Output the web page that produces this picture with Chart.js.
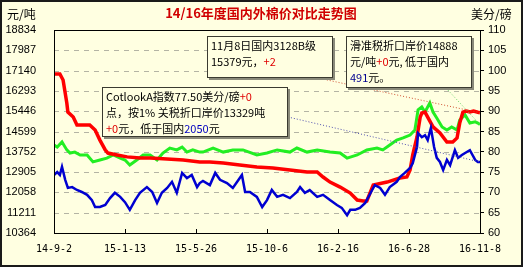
<!DOCTYPE html>
<html>
<head>
<meta charset="utf-8">
<script src="https://cdn.jsdelivr.net/npm/chart.js@4"></script>
<style>
  body { margin: 0; background: #FFFFE1; }
  canvas { display: block; }
</style>
</head>
<body>
<canvas id="c" width="523" height="267"></canvas>
<script>
// x = 天数 (从 14-9-2 起)
const xTickDays = [0, 133, 266, 399, 532, 665, 798];
const xTickLabels = ['14-9-2', '15-1-13', '15-5-26', '15-10-6', '16-2-16', '16-6-28', '16-11-8'];
const leftTicks = [10364, 11211, 12058, 12905, 13752, 14599, 15446, 16293, 17140, 17987, 18834];
const rightTicks = [60, 65, 70, 75, 80, 85, 90, 95, 100, 105, 110];

// 国内3128B (元/吨)
const redDays = [0,11,17,24,26,36,43,54,67,77,86,96,101,118,137,161,180,212,242,273,292,317,348,380,410,442,474,493,504,517,536,555,568,579,586,598,624,648,661,667,672,680,686,689,695,700,710,723,736,747,755,760,766,772,779,786,794,798];
const redVals = [17000,17000,16750,15790,15410,15200,14870,14870,14870,14660,14240,13830,13700,13620,13540,13490,13490,13450,13410,13330,13330,13280,13200,13120,13080,12990,12910,12910,12700,12490,12280,12030,11740,11700,11700,12370,12490,12660,12700,12990,13620,14370,15200,15370,15410,15200,14790,14540,14160,14160,14330,14950,15410,15450,15410,15450,15400,15379];

// 滑准税折口岸价 (元/吨)
const greenDays = [0,6,15,24,30,39,49,62,73,86,99,111,124,133,142,155,167,180,193,204,217,230,240,249,260,273,279,298,317,335,354,380,399,418,442,455,474,493,517,536,549,568,586,605,616,629,642,654,667,676,682,689,695,704,710,717,727,736,745,755,760,770,779,789,794,798];
const greenVals = [14035,13950,14160,13830,13700,13740,13620,13620,13330,13410,13490,13620,13490,13410,13200,13410,13620,13620,13410,13700,13910,13830,13950,13740,13830,13740,13740,13910,13740,13830,13830,13620,13700,13830,13740,13910,13740,13830,13740,13700,13490,13620,13830,13910,13830,14035,14240,14330,14450,14660,15500,15620,15410,15790,15410,15160,14790,14660,14790,14660,15080,15290,14950,15000,14950,14888];

// CotlookA指数 (美分/磅)
const blueDays = [0,6,11,15,21,26,34,43,52,62,71,77,86,96,105,114,124,133,142,152,161,174,184,193,202,212,221,230,240,249,258,268,273,279,292,302,311,324,335,352,358,367,380,390,399,408,418,429,442,455,461,470,479,493,504,517,530,539,549,555,564,573,583,596,601,611,620,629,642,648,657,667,672,680,682,689,695,700,706,712,717,723,729,736,742,751,757,764,774,779,789,794,798];
const blueVals = [74.3,75.0,74.3,76.3,73.1,71.1,71.3,70.6,70.1,69.4,68.1,66.4,66.4,66.9,68.6,69.9,68.9,67.6,65.7,68.1,69.9,71.3,70.1,67.4,69.9,71.1,72.6,69.9,74.8,73.5,74.3,71.3,72.3,72.8,71.8,74.8,73.1,72.3,71.1,74.3,70.1,70.1,68.9,66.4,68.1,70.6,68.9,69.4,68.6,70.1,71.3,69.9,70.6,68.9,69.4,68.1,66.9,66.2,64.4,65.7,65.7,66.2,67.4,70.6,71.8,71.1,69.4,71.3,72.6,73.8,74.8,76.0,77.2,81.2,84.6,83.6,84.1,82.9,85.9,81.2,78.5,77.5,75.5,78.0,76.7,80.4,78.5,79.2,80.0,80.4,78.0,77.5,77.5];

// 注释框 文字段: [文字, 颜色]
const note1 = [
    [['11月8日国内3128B级', '#000']],
    [['15379元，', '#000'], ['+2', '#e00000']]
];
const note2 = [
    [['滑准税折口岸价14888', '#000']],
    [['元/吨', '#000'], ['+0', '#e00000'], ['元, 低于国内', '#000']],
    [['491', '#000090'], ['元。', '#000']]
];
const note3 = [
    [['CotlookA指数77.50美分/磅', '#000'], ['+0', '#e00000']],
    [['点，按1% 关税折口岸价13329吨', '#000']],
    [['+0', '#e00000'], ['元，低于国内', '#000'], ['2050', '#0000c0'], ['元', '#000']]
];

const BG = '#FFFFE1';
const CJK = '"Noto Sans CJK SC", sans-serif';

function toPts(days, vals) {
    return days.map((d, i) => ({ x: d, y: vals[i] }));
}

function drawBox(ctx, x, y, w, h, lines, lineH) {
    ctx.save();
    ctx.fillStyle = '#8a8a7a';
    ctx.fillRect(x + 2, y + 2, w, h);
    ctx.fillStyle = BG;
    ctx.fillRect(x, y, w, h);
    ctx.strokeStyle = '#3a3a30';
    ctx.lineWidth = 1;
    ctx.strokeRect(x + 0.5, y + 0.5, w - 1, h - 1);
    ctx.font = '11px ' + CJK;
    ctx.textBaseline = 'middle';
    lines.forEach((segs, i) => {
        let tx = x + 4;
        const ty = y + 10 + i * lineH;
        segs.forEach(([t, c]) => {
            ctx.fillStyle = c;
            ctx.fillText(t, tx, ty);
            tx += ctx.measureText(t).width;
        });
    });
    ctx.restore();
}

function leader(ctx, x0, y0, x1, y1, color) {
    ctx.save();
    ctx.strokeStyle = color;
    ctx.lineWidth = 1;
    ctx.setLineDash([1, 2]);
    ctx.beginPath();
    ctx.moveTo(x0, y0);
    ctx.lineTo(x1, y1);
    ctx.stroke();
    ctx.restore();
}

const decor = {
    id: 'decor',
    beforeDraw(chart) {
        const ctx = chart.ctx;
        ctx.save();
        ctx.fillStyle = BG;
        ctx.fillRect(0, 0, chart.width, chart.height);
        ctx.textBaseline = 'middle';
        ctx.fillStyle = '#d00000';
        ctx.font = 'bold 13px ' + CJK;
        ctx.textAlign = 'center';
        ctx.fillText('14/16年度国内外棉价对比走势图', 261, 13);
        ctx.fillStyle = '#000';
        ctx.font = '12px ' + CJK;
        ctx.textAlign = 'left';
        ctx.fillText('元/吨', 7, 14);
        ctx.fillText('美分/磅', 471, 14);

        // 虚线网格
        const a = chart.chartArea;
        const sy = chart.scales.y;
        ctx.strokeStyle = '#b4b4a4';
        ctx.lineWidth = 1;
        ctx.setLineDash([5, 5]);
        leftTicks.forEach(v => {
            const py = Math.round(sy.getPixelForValue(v)) + 0.5;
            ctx.beginPath();
            ctx.moveTo(a.left, py);
            ctx.lineTo(a.right, py);
            ctx.stroke();
        });
        ctx.restore();
    },
    afterDraw(chart) {
        const ctx = chart.ctx;
        const a = chart.chartArea;
        const sx = chart.scales.x, sy = chart.scales.y, sy1 = chart.scales.y1;
        const lastX = sx.getPixelForValue(798);

        // 引线
        leader(ctx, 318, 78, lastX, sy.getPixelForValue(redVals[redVals.length - 1]), '#d05030');
        leader(ctx, 446, 88, lastX, sy.getPixelForValue(greenVals[greenVals.length - 1]), '#60d060');
        leader(ctx, 288, 117, lastX, sy1.getPixelForValue(blueVals[blueVals.length - 1]), '#5050b0');

        // 框线
        ctx.save();
        ctx.strokeStyle = '#000';
        ctx.lineWidth = 1;
        ctx.strokeRect(Math.round(a.left) + 0.5, Math.round(a.top) + 0.5, Math.round(a.right - a.left), Math.round(a.bottom - a.top));
        // x轴刻度 (向内)
        xTickDays.forEach(d => {
            const px = Math.round(sx.getPixelForValue(d)) + 0.5;
            ctx.beginPath();
            ctx.moveTo(px, a.bottom);
            ctx.lineTo(px, a.bottom - 4);
            ctx.stroke();
        });
        ctx.restore();

        drawBox(ctx, 207, 36, 126, 42, note1, 16);
        drawBox(ctx, 346, 36, 126, 52, note2, 16);
        drawBox(ctx, 102, 87, 186, 50, note3, 16);

        // 外框
        ctx.save();
        ctx.strokeStyle = '#1a1a1a';
        ctx.lineWidth = 2;
        ctx.strokeRect(1, 1, chart.width - 2, chart.height - 2);
        ctx.restore();
    }
};

new Chart(document.getElementById('c'), {
    type: 'line',
    data: {
        datasets: [
            {
                label: 'CotlookA',
                data: toPts(blueDays, blueVals),
                yAxisID: 'y1',
                borderColor: '#0000d0',
                borderWidth: 2.5,
                pointRadius: 0,
                order: 0
            },
            {
                label: '国内3128B',
                data: toPts(redDays, redVals),
                yAxisID: 'y',
                borderColor: '#ff0000',
                borderWidth: 3.5,
                pointRadius: 0,
                order: 1
            },
            {
                label: '滑准税',
                data: toPts(greenDays, greenVals),
                yAxisID: 'y',
                borderColor: '#22ee22',
                borderWidth: 3,
                pointRadius: 0,
                order: 2
            }
        ]
    },
    options: {
        responsive: false,
        animation: false,
        devicePixelRatio: 1,
        layout: { padding: { top: 30, left: 0, right: 0, bottom: 0 } },
        plugins: { legend: { display: false }, tooltip: { enabled: false } },
        scales: {
            x: {
                type: 'linear',
                min: 0,
                max: 798,
                afterBuildTicks: s => { s.ticks = xTickDays.map(v => ({ value: v })); },
                afterFit: s => { s.height = 34; },
                ticks: {
                    autoSkip: false,
                    maxRotation: 0,
                    color: '#000',
                    padding: 10,
                    font: { family: '"DejaVu Sans Mono", monospace', size: 10 },
                    callback: v => xTickLabels[xTickDays.indexOf(v)]
                },
                grid: { display: true, drawOnChartArea: false, drawTicks: false },
                border: { color: '#000' }
            },
            y: {
                position: 'left',
                min: 10364,
                max: 18834,
                afterBuildTicks: s => { s.ticks = leftTicks.map(v => ({ value: v })); },
                afterFit: s => { s.width = 54; },
                ticks: {
                    color: '#000',
                    padding: 18,
                    font: { family: '"Liberation Sans", Arial, sans-serif', size: 11 },
                    callback: v => String(v)
                },
                grid: { display: true, drawOnChartArea: false, drawTicks: false, color: 'rgba(0,0,0,0)' },
                border: { color: '#000' }
            },
            y1: {
                position: 'right',
                min: 60,
                max: 110,
                afterBuildTicks: s => { s.ticks = rightTicks.map(v => ({ value: v })); },
                afterFit: s => { s.width = 43; },
                ticks: {
                    color: '#000',
                    padding: 4,
                    font: { family: '"Liberation Sans", Arial, sans-serif', size: 11 },
                    callback: v => String(v)
                },
                grid: { drawOnChartArea: false, drawTicks: true, tickLength: 4, color: '#000' },
                border: { color: '#000' }
            }
        }
    },
    plugins: [decor]
});
</script>
</body>
</html>
